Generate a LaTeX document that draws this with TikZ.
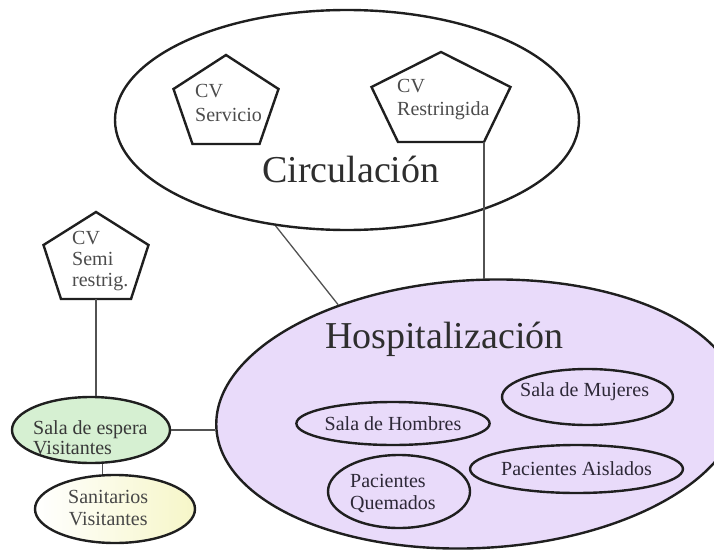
\documentclass[tikz,border=0pt]{standalone}
\usepackage{fontspec}
\setmainfont{Liberation Serif}
\usetikzlibrary{shapes.geometric}

% pentagon drawn from its corner coordinates:
% name, centre x, top y, shoulder half width, shoulder y, base half width, base y
\newcommand\pentagonat[7]{%
  \coordinate (#1-top) at (#2,#3);
  \coordinate (#1-r) at (#2+#4,#5);
  \coordinate (#1-br) at (#2+#6,#7);
  \coordinate (#1-bl) at (#2-#6,#7);
  \coordinate (#1-l) at (#2-#4,#5);
  \coordinate (#1-bottom) at (#2,#7);
  \draw[pentline] (#1-top) -- (#1-r) -- (#1-br) -- (#1-bl) -- (#1-l) -- cycle;
}

\definecolor{hospfill}{RGB}{233,219,250}
\definecolor{esperafill}{RGB}{214,240,210}
\definecolor{sanfill}{RGB}{246,246,200}
\definecolor{ink}{RGB}{45,40,55}

\tikzset{
  outline/.style={draw=black!88, line width=2.4pt},
  pentline/.style={outline, line join=miter},
  link/.style={draw=black!68, line width=1.3pt},
  area/.style={outline, ellipse, inner sep=0pt},
  room/.style={outline, ellipse, inner sep=0pt, text=ink,
    font=\fontsize{20}{24}\selectfont},
  roomtext/.style={inner sep=0pt, anchor=north west, align=left, text=ink},
  cvtext/.style={inner sep=0pt, anchor=north west, align=left, text=black!70},
  title/.style={inner sep=0pt, anchor=base west, text=black!82,
    font=\fontsize{38}{40}\selectfont},
}

\begin{document}
\begin{tikzpicture}[x=1pt, y=-1pt]
\useasboundingbox (0,0) rectangle (714,551);
\clip (0,0) rectangle (714,551);

% main areas
\node[area, minimum width=464pt, minimum height=220pt] (circ) at (347,120) {};
\node[area, fill=hospfill, rotate=3, minimum width=524pt, minimum height=268pt]
  (hosp) at (478,414) {};

\node[title] (circtitle) at (262,182) {Circulación};
\node[title] (hosptitle) at (325,348) {Hospitalización};

% access points
\pentagonat{serv}{226}{55}{52.5}{89}{33.5}{144}
\pentagonat{restr}{441}{52}{69.5}{87}{43}{142}
\pentagonat{semi}{96}{212}{52.5}{245}{35}{299}

\node[cvtext, font=\fontsize{20}{24}\selectfont] (servtext) at (195,84.5) {CV\\Servicio};
\node[cvtext, font=\fontsize{20}{23}\selectfont] (restrtext) at (397,79.5) {CV\\Restringida};
\node[cvtext, font=\fontsize{20}{21}\selectfont] (semitext) at (72,231.5) {CV\\Semi\\restrig.};

% rooms inside hospitalization
\node[room, minimum width=170pt, minimum height=43pt] (hombres) at (393,423.5) {Sala de Hombres};
\node[room, minimum width=171pt, minimum height=56pt] (mujeres) at (587.5,397) {};
\node[roomtext, anchor=base west, font=\fontsize{20}{24}\selectfont]
  (mujerestext) at (520,396.5) {Sala de Mujeres};
\node[room, minimum width=163pt, minimum height=48pt] (aislados) at (576.5,469) {Pacientes Aislados};
\node[room, minimum width=142pt, minimum height=73pt] (quemados) at (399,491.5) {};
\node[roomtext, font=\fontsize{20}{22}\selectfont]
  (quemadostext) at (350,474.3) {Pacientes\\Quemados};

% visitor areas
\node[area, fill=esperafill, minimum width=158pt, minimum height=66pt] (espera) at (91,430) {};
\node[roomtext, text=black!78, font=\fontsize{20}{20}\selectfont]
  (esperatext) at (33,420.3) {Sala de espera\\Visitantes};
\node[area, left color=white, right color=sanfill, minimum width=160pt, minimum height=68pt]
  (sanit) at (115,509) {};
\node[roomtext, text=black!72, align=center, font=\fontsize{20}{22}\selectfont]
  (sanittext) at (68,490.3) {Sanitarios\\Visitantes};

% connections
\draw[link] (circ.236) -- (hosp.139);
\draw[link] (restr-br) -- (restr-br |- hosp.north);
\draw[link] (semi-bottom) -- (semi-bottom |- espera.north);
\draw[link] (espera.east) -- (espera.east -| hosp.west);
\draw[link] (espera.-71) -- (espera.-71 |- sanit.north);
\end{tikzpicture}
\end{document}
